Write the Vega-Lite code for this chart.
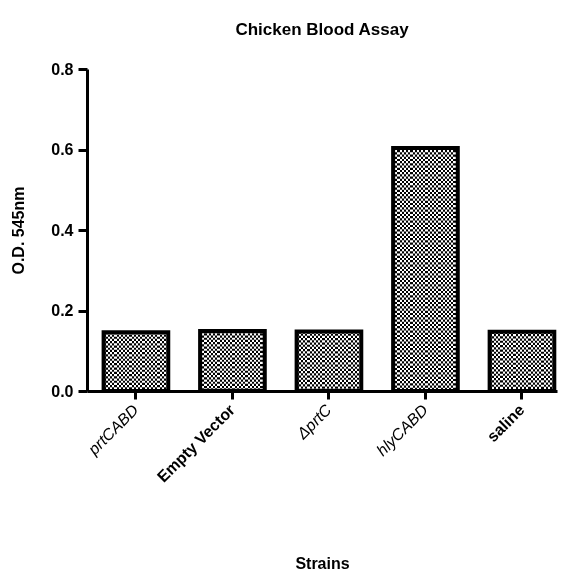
{
  "$schema": "https://vega.github.io/schema/vega-lite/v6.json",
  "autosize": "none",
  "width": 470,
  "height": 322,
  "padding": {"left": 87, "top": 69, "right": 10, "bottom": 187},
  "background": "white",
  "title": {
    "text": "Chicken Blood Assay",
    "font": "Liberation Sans",
    "fontSize": 17,
    "fontWeight": "bold",
    "color": "black",
    "anchor": "middle",
    "frame": "group",
    "baseline": "alphabetic",
    "offset": 9
  },
  "data": {
    "values": [
      {"strain": "prtCABD", "od": 0.146},
      {"strain": "Empty Vector", "od": 0.149},
      {"strain": "ΔprtC", "od": 0.148},
      {"strain": "hlyCABD", "od": 0.604},
      {"strain": "saline", "od": 0.147}
    ]
  },
  "encoding": {
    "x": {
      "field": "strain",
      "type": "nominal",
      "sort": null,
      "scale": {"paddingInner": 0.33, "paddingOuter": 0.1, "align": 0.86},
      "axis": {
        "title": "Strains",
        "titleFont": "Liberation Sans",
        "titleFontSize": 16,
        "titleFontWeight": "bold",
        "titleColor": "black",
        "titlePadding": 71,
        "labelAngle": -45,
        "labelAlign": "right",
        "labelBaseline": "middle",
        "labelFont": "Liberation Sans",
        "labelFontSize": 16,
        "labelColor": "black",
        "labelPadding": 8,
        "labelFontWeight": {"condition": {"test": "datum.value === 'Empty Vector' || datum.value === 'saline'", "value": "bold"}, "value": "normal"},
        "labelFontStyle": {"condition": {"test": "datum.value === 'Empty Vector' || datum.value === 'saline'", "value": "normal"}, "value": "italic"},
        "domainColor": "black",
        "domainWidth": 3,
        "tickColor": "black",
        "tickWidth": 3,
        "tickSize": 8
      }
    },
    "y": {
      "field": "od",
      "type": "quantitative",
      "scale": {"domain": [0, 0.8], "nice": false},
      "axis": {
        "title": "O.D. 545nm",
        "titleFont": "Liberation Sans",
        "titleFontSize": 16,
        "titleFontWeight": "bold",
        "titleColor": "black",
        "titlePadding": 24,
        "values": [0, 0.2, 0.4, 0.6, 0.8],
        "format": ".1f",
        "labelFont": "Liberation Sans",
        "labelFontSize": 16,
        "labelFontWeight": "bold",
        "labelColor": "black",
        "labelPadding": 5,
        "grid": false,
        "domainColor": "black",
        "domainWidth": 3,
        "tickColor": "black",
        "tickWidth": 3,
        "tickSize": 9
      }
    }
  },
  "layer": [
    {
      "mark": {
        "type": "bar",
        "strokeWidth": 0,
        "fill": {
          "gradient": "linear",
          "x1": 0, "x2": 1, "y1": 0, "y2": 0,
          "stops": [
            {"offset": 0, "color": "black"}, {"offset": 0.0333, "color": "black"},
            {"offset": 0.0333, "color": "white"}, {"offset": 0.0667, "color": "white"},
            {"offset": 0.0667, "color": "black"}, {"offset": 0.1, "color": "black"},
            {"offset": 0.1, "color": "white"}, {"offset": 0.1333, "color": "white"},
            {"offset": 0.1333, "color": "black"}, {"offset": 0.1667, "color": "black"},
            {"offset": 0.1667, "color": "white"}, {"offset": 0.2, "color": "white"},
            {"offset": 0.2, "color": "black"}, {"offset": 0.2333, "color": "black"},
            {"offset": 0.2333, "color": "white"}, {"offset": 0.2667, "color": "white"},
            {"offset": 0.2667, "color": "black"}, {"offset": 0.3, "color": "black"},
            {"offset": 0.3, "color": "white"}, {"offset": 0.3333, "color": "white"},
            {"offset": 0.3333, "color": "black"}, {"offset": 0.3667, "color": "black"},
            {"offset": 0.3667, "color": "white"}, {"offset": 0.4, "color": "white"},
            {"offset": 0.4, "color": "black"}, {"offset": 0.4333, "color": "black"},
            {"offset": 0.4333, "color": "white"}, {"offset": 0.4667, "color": "white"},
            {"offset": 0.4667, "color": "black"}, {"offset": 0.5, "color": "black"},
            {"offset": 0.5, "color": "white"}, {"offset": 0.5333, "color": "white"},
            {"offset": 0.5333, "color": "black"}, {"offset": 0.5667, "color": "black"},
            {"offset": 0.5667, "color": "white"}, {"offset": 0.6, "color": "white"},
            {"offset": 0.6, "color": "black"}, {"offset": 0.6333, "color": "black"},
            {"offset": 0.6333, "color": "white"}, {"offset": 0.6667, "color": "white"},
            {"offset": 0.6667, "color": "black"}, {"offset": 0.7, "color": "black"},
            {"offset": 0.7, "color": "white"}, {"offset": 0.7333, "color": "white"},
            {"offset": 0.7333, "color": "black"}, {"offset": 0.7667, "color": "black"},
            {"offset": 0.7667, "color": "white"}, {"offset": 0.8, "color": "white"},
            {"offset": 0.8, "color": "black"}, {"offset": 0.8333, "color": "black"},
            {"offset": 0.8333, "color": "white"}, {"offset": 0.8667, "color": "white"},
            {"offset": 0.8667, "color": "black"}, {"offset": 0.9, "color": "black"},
            {"offset": 0.9, "color": "white"}, {"offset": 0.9333, "color": "white"},
            {"offset": 0.9333, "color": "black"}, {"offset": 0.9667, "color": "black"},
            {"offset": 0.9667, "color": "white"}, {"offset": 1, "color": "white"}
          ]
        }
      }
    },
    {
      "mark": {
        "type": "rule",
        "color": "white",
        "strokeWidth": 61,
        "strokeDash": [2.2, 2.2],
        "blend": "difference"
      },
      "encoding": {"y2": {"datum": 0}}
    },
    {
      "mark": {
        "type": "bar",
        "fill": "transparent",
        "stroke": "black",
        "strokeWidth": 4
      }
    }
  ],
  "config": {
    "view": {"stroke": null}
  }
}
